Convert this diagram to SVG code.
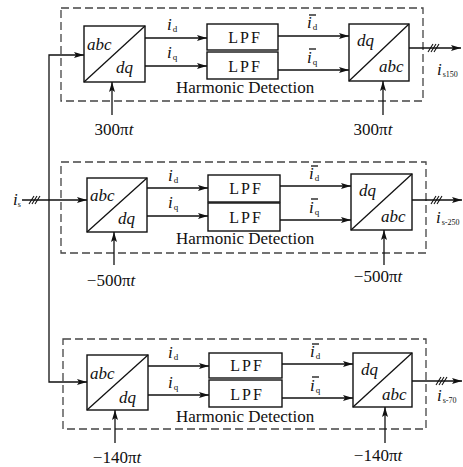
<svg xmlns="http://www.w3.org/2000/svg" width="463" height="467" viewBox="0 0 463 467">
<defs>
<style>
.box{fill:#fff;stroke:#111;stroke-width:1.4}
.dash{fill:none;stroke:#444;stroke-width:1.3;stroke-dasharray:8 4}
.ln{stroke:#111;stroke-width:1.3;fill:none}
.arr{marker-end:url(#ah)}
.tick{stroke:#111;stroke-width:1.1;fill:none}
text{font-family:"Liberation Serif","Times New Roman",serif;fill:#111;font-size:17px}
.it{font-style:italic}
.sub{font-size:9px;font-style:normal}
.sub8{font-size:8px;font-style:normal}
.lpf{text-anchor:middle;font-size:16px;letter-spacing:2px}
.mid{text-anchor:middle}
</style>
<marker id="ah" viewBox="0 0 10 6" refX="10" refY="3" markerWidth="10" markerHeight="6" markerUnits="userSpaceOnUse" orient="auto">
<path d="M0,0 L10,3 L0,6 L2,3 z" fill="#111"/>
</marker>
</defs>
<rect width="463" height="467" fill="#fff"/>

<!-- Block 1 -->
<g id="hd1"><rect class="dash" x="61" y="8" width="362" height="93"/><text x="176" y="93">Harmonic Detection</text></g>
<g id="abcdq1"><rect class="box" x="84" y="26" width="61" height="56"/><line class="ln" x1="84" y1="82" x2="145" y2="26"/><text class="it" x="87" y="50">abc</text><text class="it" x="116" y="73">dq</text></g>
<g id="lpfd1"><rect class="box" x="207" y="24" width="71" height="26"/><text class="lpf" x="245" y="43">LPF</text></g>
<g id="lpfq1"><rect class="box" x="207" y="52" width="71" height="27"/><text class="lpf" x="245" y="72">LPF</text></g>
<g id="dqabc1"><rect class="box" x="349" y="24" width="60" height="57"/><line class="ln" x1="349" y1="81" x2="409" y2="24"/><text class="it" x="357" y="46">dq</text><text class="it" x="379" y="72">abc</text></g>
<g id="lbl1">
<text class="it" x="167" y="30">i<tspan class="sub" dx="1" dy="2">d</tspan></text>
<text class="it" x="167" y="58">i<tspan class="sub" dx="1" dy="2">q</tspan></text>
<text class="it" x="307" y="28">i<tspan class="sub" dx="1" dy="2">d</tspan></text><line class="ln" x1="309" y1="15" x2="316" y2="15"/>
<text class="it" x="307" y="63">i<tspan class="sub" dx="1" dy="2">q</tspan></text><line class="ln" x1="309" y1="49" x2="316" y2="49"/>
<text x="114" y="135" class="mid">300π<tspan class="it">t</tspan></text>
<text x="373" y="135" class="mid">300π<tspan class="it">t</tspan></text>
<text class="it" x="437" y="75">i<tspan class="sub8" dx="1" dy="2">s150</tspan></text>
</g>

<!-- Block 2 -->
<g id="hd2"><rect class="dash" x="61" y="162" width="365" height="91"/><text x="176" y="244">Harmonic Detection</text></g>
<g id="abcdq2"><rect class="box" x="87" y="178" width="60" height="54"/><line class="ln" x1="87" y1="232" x2="147" y2="178"/><text class="it" x="90" y="201">abc</text><text class="it" x="118" y="224">dq</text></g>
<g id="lpfd2"><rect class="box" x="208" y="175" width="72" height="27"/><text class="lpf" x="246" y="194">LPF</text></g>
<g id="lpfq2"><rect class="box" x="208" y="203" width="72" height="28"/><text class="lpf" x="246" y="223">LPF</text></g>
<g id="dqabc2"><rect class="box" x="351" y="174" width="61" height="56"/><line class="ln" x1="351" y1="230" x2="412" y2="174"/><text class="it" x="359" y="196">dq</text><text class="it" x="381" y="222">abc</text></g>
<g id="lbl2">
<text class="it" x="168" y="181">i<tspan class="sub" dx="1" dy="2">d</tspan></text>
<text class="it" x="168" y="208">i<tspan class="sub" dx="1" dy="2">q</tspan></text>
<text class="it" x="309" y="179">i<tspan class="sub" dx="1" dy="2">d</tspan></text><line class="ln" x1="311" y1="166" x2="318" y2="166"/>
<text class="it" x="309" y="213">i<tspan class="sub" dx="1" dy="2">q</tspan></text><line class="ln" x1="311" y1="199" x2="318" y2="199"/>
<text x="111" y="286" class="mid">−500π<tspan class="it">t</tspan></text>
<text x="378" y="282" class="mid">−500π<tspan class="it">t</tspan></text>
<text class="it" x="436" y="223">i<tspan class="sub8" dx="1" dy="2">s-250</tspan></text>
<text class="it" x="13" y="205">i<tspan class="sub8" dx="0" dy="2">s</tspan></text>
</g>

<!-- Block 3 -->
<g id="hd3"><rect class="dash" x="63" y="339" width="363" height="90"/><text x="176" y="422">Harmonic Detection</text></g>
<g id="abcdq3"><rect class="box" x="87" y="355" width="61" height="55"/><line class="ln" x1="87" y1="410" x2="148" y2="355"/><text class="it" x="90" y="379">abc</text><text class="it" x="119" y="403">dq</text></g>
<g id="lpfd3"><rect class="box" x="209" y="353" width="73" height="25"/><text class="lpf" x="247" y="371">LPF</text></g>
<g id="lpfq3"><rect class="box" x="209" y="380" width="73" height="27"/><text class="lpf" x="247" y="400">LPF</text></g>
<g id="dqabc3"><rect class="box" x="353" y="353" width="59" height="54"/><line class="ln" x1="353" y1="407" x2="412" y2="353"/><text class="it" x="361" y="375">dq</text><text class="it" x="382" y="400">abc</text></g>
<g id="lbl3">
<text class="it" x="168" y="358">i<tspan class="sub" dx="1" dy="2">d</tspan></text>
<text class="it" x="168" y="388">i<tspan class="sub" dx="1" dy="2">q</tspan></text>
<text class="it" x="310" y="357">i<tspan class="sub" dx="1" dy="2">d</tspan></text><line class="ln" x1="312" y1="344" x2="319" y2="344"/>
<text class="it" x="310" y="391">i<tspan class="sub" dx="1" dy="2">q</tspan></text><line class="ln" x1="312" y1="377" x2="319" y2="377"/>
<text x="117" y="463" class="mid">−140π<tspan class="it">t</tspan></text>
<text x="378" y="461" class="mid">−140π<tspan class="it">t</tspan></text>
<text class="it" x="437" y="401">i<tspan class="sub8" dx="1" dy="2">s-70</tspan></text>
</g>

<g id="connectors">
<!-- input trunk -->
<line class="ln arr" x1="22" y1="200" x2="87" y2="200"/>
<polyline class="ln arr" points="49,200 49,55 84,55"/>
<polyline class="ln arr" points="49,200 49,382 87,382"/>
<path class="tick" d="M29,204 L34,196 M32,204 L37,196 M35,204 L40,196"/>
<!-- block1 -->
<line class="ln arr" x1="145" y1="38" x2="207" y2="38"/>
<line class="ln arr" x1="145" y1="66" x2="207" y2="66"/>
<line class="ln arr" x1="278" y1="36" x2="349" y2="36"/>
<line class="ln arr" x1="278" y1="70" x2="349" y2="70"/>
<line class="ln arr" x1="409" y1="48" x2="461" y2="48"/>
<path class="tick" d="M428,52 L433,44 M431,52 L436,44 M434,52 L439,44"/>
<line class="ln arr" x1="112" y1="115" x2="112" y2="82"/>
<line class="ln arr" x1="383" y1="115" x2="383" y2="81"/>
<!-- block2 -->
<line class="ln arr" x1="147" y1="188" x2="208" y2="188"/>
<line class="ln arr" x1="147" y1="216" x2="208" y2="216"/>
<line class="ln arr" x1="280" y1="186" x2="351" y2="186"/>
<line class="ln arr" x1="280" y1="220" x2="351" y2="220"/>
<line class="ln arr" x1="412" y1="200" x2="462" y2="200"/>
<path class="tick" d="M431,204 L436,196 M434,204 L439,196 M437,204 L442,196"/>
<line class="ln arr" x1="114" y1="265" x2="114" y2="232"/>
<line class="ln arr" x1="384" y1="265" x2="384" y2="230"/>
<!-- block3 -->
<line class="ln arr" x1="148" y1="366" x2="209" y2="366"/>
<line class="ln arr" x1="148" y1="395" x2="209" y2="395"/>
<line class="ln arr" x1="282" y1="364" x2="353" y2="364"/>
<line class="ln arr" x1="282" y1="398" x2="353" y2="398"/>
<line class="ln arr" x1="412" y1="381" x2="462" y2="381"/>
<path class="tick" d="M436,385 L441,377 M439,385 L444,377 M442,385 L447,377"/>
<line class="ln arr" x1="115" y1="443" x2="115" y2="410"/>
<line class="ln arr" x1="385" y1="443" x2="385" y2="407"/>
</g>
</svg>
